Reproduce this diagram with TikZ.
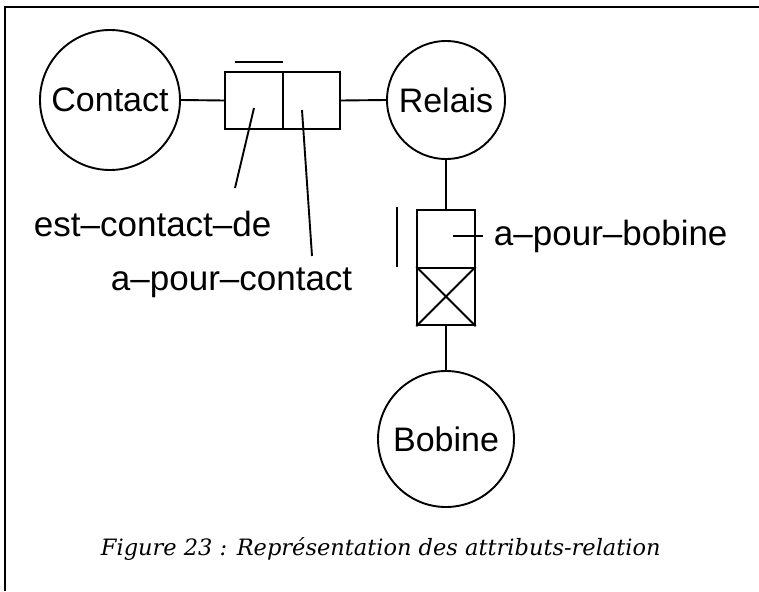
\documentclass[tikz,border=0pt]{standalone}
\usepackage{fontspec}
\newfontfamily\labfont{Liberation Sans}
\newfontfamily\capfont{DejaVu Serif}
\tikzset{
  ent/.style={circle, draw, inner sep=0pt, font=\labfont\fontsize{34}{34}\selectfont},
  cell/.style={rectangle, draw, minimum width=57.5pt, minimum height=57.5pt, inner sep=0pt},
  lab/.style={font=\labfont\fontsize{35}{35}\selectfont, inner sep=0pt, anchor=base west},
  capt/.style={font=\capfont\itshape\fontsize{22.5}{22.5}\selectfont, inner sep=0pt, anchor=base west},
}
\begin{document}
\begin{tikzpicture}[x=1pt,y=-1pt, line width=1.9pt]
\useasboundingbox (0,0) rectangle (759,591);
% frame
\coordinate (fa) at (5,591);
\coordinate (fb) at (5,7);
\coordinate (fc) at (759,7);
\draw[line width=1.6pt] (fa) -- (fb) -- (fc);
% entities
\node[ent, minimum size=140pt] (contact) at (110,100) {Contact};
\node[ent, minimum size=118pt] (relais) at (446,100) {Relais};
\node[ent, minimum size=136pt] (bobine) at (446,439) {Bobine};
% horizontal relation box
\node[cell] (c1) at (254,100.5) {};
\node[cell] (c2) at (311.5,100.5) {};
% vertical relation box
\node[cell] (v1) at (446,239) {};
\node[cell] (v2) at (446,296.5) {};
\draw (v2.north west) -- (v2.south east) (v2.north east) -- (v2.south west);
% connectors
\draw (contact.east) -- (c1.west);
\draw (c2.east) -- (relais.west);
\draw (relais.south) -- (v1.north);
\draw (v2.south) -- (bobine.north);
% bars
\coordinate (ob1) at (235,62);
\coordinate (ob2) at (283,62);
\draw (ob1) -- (ob2);
\coordinate (vb1) at (397,207);
\coordinate (vb2) at (397,267);
\draw (vb1) -- (vb2);
% labels
\node[lab] (t1) at (33,236) {est–contact–de};
\node[lab] (t2) at (110,290) {a–pour–contact};
\node[lab] (t3) at (493,245) {a–pour–bobine};
% pointers
\coordinate (p1s) at (254,108);
\coordinate (p1e) at (235,188);
\draw (p1s) -- (p1e);
\coordinate (p2s) at (302,110);
\coordinate (p2e) at (312,256);
\draw (p2s) -- (p2e);
\coordinate (p3s) at (453,236);
\coordinate (p3e) at (483,236);
\draw (p3s) -- (p3e);
% caption
\node[capt] (cap) at (100,555) {Figure 23 : Représentation des attributs-relation};
\end{tikzpicture}
\end{document}
